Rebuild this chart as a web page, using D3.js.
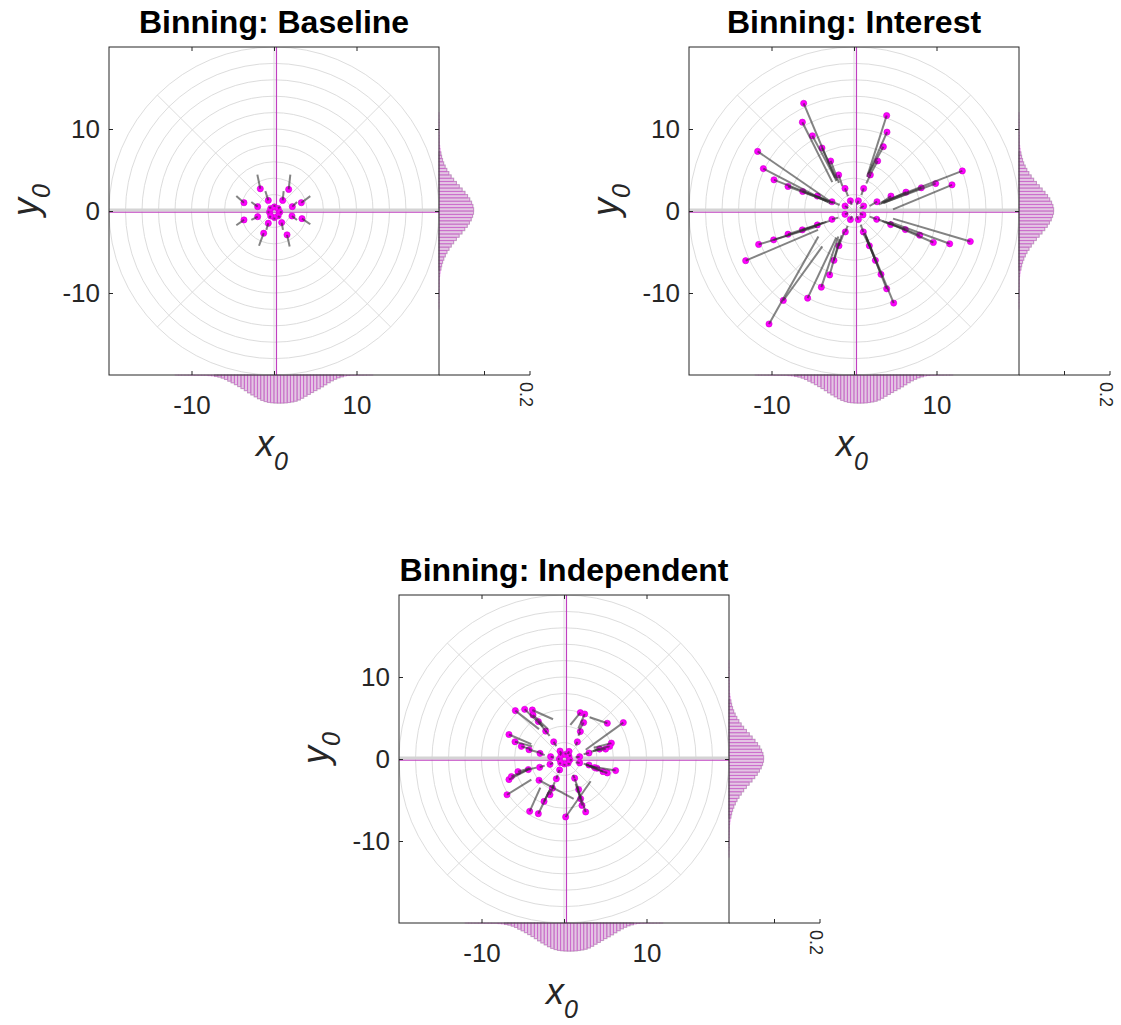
<!DOCTYPE html>
<html>
<head>
<meta charset="utf-8">
<script src="https://cdn.jsdelivr.net/npm/d3@7"></script>
<style>
  body { margin: 0; background: #fff; }
  svg { display: block; }
  text { font-family: "Liberation Sans", Arial, Helvetica, sans-serif; fill: #262626; }
</style>
</head>
<body>
<svg id="chart" width="1121" height="1025"></svg>
<script>
// ---------------- data ----------------
const panelTitles = ["Binning: Baseline", "Binning: Interest", "Binning: Independent"];
const axisDomain = [-20, 20];
const xTickValues = [-10, 0, 10];
const yTickValues = [-10, 0, 10];
const ringRadii = [2, 4, 6, 8, 10, 12, 14, 16, 18, 20];
const spokeAngles = [0, 45, 90, 135, 180, 225, 270, 315];
const guideX = 0.3;     // vertical reference line (x0)
const guideY = -0.15;   // horizontal reference line (y0)
const marginalMax = 0.2;
const marginalTicks = [0, 0.1, 0.2];

// marginal histograms: bins of width 0.4 spanning [-12, 12]
const binStart = -12, binWidth = 0.4;
const xMarginal = [
  0.0002, 0.0003, 0.0003, 0.0004, 0.0005, 0.0006, 0.0008, 0.0010, 0.0012, 0.0015,
  0.0019, 0.0024, 0.0032, 0.0045, 0.0068, 0.0098, 0.0135, 0.0172, 0.0213, 0.0255,
  0.0298, 0.0345, 0.0392, 0.0438, 0.0480, 0.0522, 0.0556, 0.0584, 0.0600, 0.0610,
  0.0615, 0.0617, 0.0616, 0.0612, 0.0604, 0.0592, 0.0575, 0.0548, 0.0510, 0.0466,
  0.0425, 0.0384, 0.0343, 0.0303, 0.0260, 0.0215, 0.0170, 0.0128, 0.0092, 0.0062,
  0.0040, 0.0026, 0.0016, 0.0010, 0.0007, 0.0005, 0.0004, 0.0003, 0.0002, 0.0002
];
const yMarginal = [
  0.0001, 0.0001, 0.0002, 0.0002, 0.0003, 0.0004, 0.0005, 0.0007, 0.0010, 0.0015,
  0.0021, 0.0030, 0.0042, 0.0058, 0.0079, 0.0105, 0.0137, 0.0175, 0.0219, 0.0268,
  0.0322, 0.0380, 0.0442, 0.0505, 0.0566, 0.0620, 0.0668, 0.0707, 0.0738, 0.0758,
  0.0760, 0.0744, 0.0716, 0.0676, 0.0627, 0.0570, 0.0508, 0.0445, 0.0382, 0.0322,
  0.0266, 0.0216, 0.0172, 0.0134, 0.0103, 0.0077, 0.0057, 0.0041, 0.0029, 0.0020,
  0.0014, 0.0010, 0.0007, 0.0005, 0.0004, 0.0003, 0.0002, 0.0002, 0.0001, 0.0001
];

// bin centres (points) and where each one is shifted to (line ends)
const baselineDots = [
  [-1.66, 2.71], [1.78, 2.63], [-3.64, 1.01], [3.31, 1.01], [-1.98, 0.53], [2.22, 0.53],
  [-3.64, -1.09], [3.39, -0.93], [-1.98, -0.69], [2.18, -0.61], [-1.25, -2.71], [1.58, -2.91],
  [-0.69, 1.29], [1.05, 1.29], [-0.69, -1.49], [0.93, -1.41],
  [-0.55, -0.15], [-0.40, 0.30], [0.05, 0.50], [0.50, 0.30], [0.70, -0.15], [0.50, -0.60],
  [0.05, -0.80], [-0.40, -0.60]
];
const baselineEnds = [
  [-2.02, 4.44], [1.98, 4.44], [-4.57, 1.82], [4.40, 1.82], [-2.75, 1.09], [2.79, 1.09],
  [-4.57, -1.74], [4.40, -1.62], [-2.75, -1.09], [2.79, -1.09], [-1.82, -4.24], [1.90, -4.32],
  [-1.05, 2.42], [1.17, 2.42], [-0.93, -2.30], [1.09, -2.30],
  [-0.80, -0.15], [-0.55, 0.50], [0.05, 0.75], [0.70, 0.50], [0.95, -0.15], [0.70, -0.80],
  [0.05, -1.05], [-0.55, -0.80]
];

const interestDots = [
  [-6.10, 13.13], [-6.26, 10.83], [-5.05, 9.17], [-3.88, 7.68], [-2.83, 6.10], [-1.86, 4.40], [-1.09, 2.75], [-0.44, 1.25],
  [3.96, 11.64], [4.00, 9.62], [3.56, 7.84], [2.87, 6.10], [1.98, 4.40], [1.17, 2.75], [0.53, 1.25],
  [-11.68, 7.27], [-10.99, 5.17], [-9.70, 3.80], [-8.00, 2.99], [-6.22, 2.38], [-4.44, 1.82], [-2.67, 1.13], [-1.09, 0.61],
  [13.13, 4.89], [11.88, 3.19], [9.90, 3.35], [8.16, 2.83], [6.30, 2.30], [4.48, 1.82], [2.79, 1.13], [1.17, 0.61],
  [14.10, -3.72], [11.60, -4.00], [9.62, -3.84], [7.96, -2.95], [6.22, -2.26], [4.44, -1.66], [2.75, -1.01], [1.09, -0.48],
  [4.81, -11.23], [3.96, -9.49], [3.27, -7.72], [2.59, -6.02], [1.86, -4.24], [1.13, -2.55], [0.53, -1.05],
  [-10.30, -13.78], [-8.57, -10.91], [-5.62, -10.63], [-3.96, -9.29], [-2.95, -7.80], [-2.43, -6.02], [-1.82, -4.24], [-1.05, -2.55], [-0.44, -1.05],
  [-13.13, -6.06], [-11.56, -4.08], [-9.74, -3.52], [-8.00, -2.83], [-6.26, -2.30], [-4.44, -1.70], [-2.67, -1.01], [-1.09, -0.40]
];
const interestEnds = [
  [-2.14, 3.64], [-2.63, 3.52], [-2.30, 4.04], [-2.06, 3.76], [-1.82, 3.43], [-1.41, 3.03], [-0.73, 1.82], [-0.28, 0.73],
  [1.58, 4.16], [1.74, 4.48], [1.82, 4.65], [1.90, 4.32], [1.49, 3.35], [0.89, 1.94], [0.36, 0.77],
  [-2.63, 1.01], [-2.87, 0.93], [-2.95, 1.17], [-3.35, 1.25], [-3.11, 1.13], [-2.55, 0.97], [-1.74, 0.73], [-0.69, 0.36],
  [3.35, 1.09], [4.73, 0.20], [3.60, 1.01], [3.52, 0.97], [3.27, 0.89], [3.03, 0.77], [1.90, 0.61], [0.69, 0.32],
  [4.73, -0.93], [4.32, -1.33], [4.08, -1.41], [3.84, -1.33], [3.43, -1.21], [2.91, -1.01], [1.90, -0.69], [0.69, -0.28],
  [1.29, -2.63], [1.37, -2.87], [1.45, -3.11], [1.54, -3.43], [1.13, -2.71], [0.81, -1.66], [0.32, -0.65],
  [-4.32, -3.11], [-3.84, -4.32], [-2.14, -3.23], [-1.90, -3.11], [-1.74, -3.43], [-1.49, -2.95], [-1.17, -2.51], [-0.77, -1.82], [-0.24, -0.61],
  [-4.36, -2.30], [-4.48, -1.90], [-4.16, -1.66], [-3.76, -1.45], [-3.35, -1.33], [-2.95, -1.21], [-1.90, -0.81], [-0.73, -0.24]
];

const independentDots = [
  [-5.90, 5.90], [-4.77, 6.06], [-3.84, 5.98], [-3.76, 5.37], [-3.11, 4.57], [-2.22, 3.40],
  [-6.67, 2.99], [-5.94, 2.10], [-5.17, 1.54], [-4.24, 1.13], [-2.91, 0.69], [-1.25, 2.10],
  [-0.48, 0.97], [-1.62, 0.28],
  [1.98, 5.66], [2.51, 5.49], [2.38, 4.44], [1.98, 3.35], [1.62, 2.10], [0.61, 0.93],
  [5.25, 4.36], [7.19, 4.44], [5.74, 1.94], [5.54, 1.54], [5.05, 1.21], [4.32, 1.21],
  [3.03, 0.73], [1.90, 0.28],
  [6.26, -1.41], [5.25, -1.70], [4.73, -1.54], [4.00, -1.13], [3.72, -1.05], [3.03, -0.73],
  [1.90, -0.48], [1.29, -2.34], [1.78, -3.72], [2.02, -4.85], [2.18, -5.66], [2.63, -6.46],
  [0.20, -7.07],
  [-6.91, -4.36], [-6.67, -2.51], [-6.38, -2.14], [-5.58, -1.54], [-4.32, -1.29], [-2.95, -1.01],
  [-1.70, -0.65], [-0.53, -1.33], [-3.03, -2.59], [-4.16, -6.38], [-3.11, -6.67], [-2.42, -5.17],
  [-1.70, -4.36], [-1.41, -3.56], [-0.93, -2.42],
  [-0.55, 0.00], [-0.35, 0.45], [0.15, 0.55], [0.60, 0.35], [0.70, -0.10], [0.50, -0.50],
  [0.05, -0.60], [-0.40, -0.45]
];
const independentEnds = [
  [-3.03, 3.64], [-2.55, 3.96], [-1.33, 4.85], [-1.94, 3.64], [-2.14, 3.31], [-1.74, 2.83],
  [-3.96, 1.82], [-3.84, 1.54], [-4.08, 1.21], [-2.75, 0.73], [-2.34, 0.48], [-0.93, 1.54],
  [-0.32, 0.61], [-1.25, 0.20],
  [0.77, 4.16], [1.74, 3.72], [1.82, 3.43], [1.74, 2.83], [1.41, 1.62], [0.48, 0.61],
  [3.11, 5.09], [2.63, 1.13], [3.60, 1.37], [3.72, 1.09], [3.52, 0.97], [3.31, 0.89],
  [2.38, 0.57], [1.41, 0.20],
  [3.11, -0.89], [3.31, -1.05], [3.11, -0.81], [2.71, -0.73], [2.63, -0.69], [2.38, -0.57],
  [1.41, -0.40], [1.09, -1.94], [1.29, -2.42], [1.41, -3.03], [1.58, -3.31], [1.70, -3.64],
  [3.23, -2.71],
  [-3.96, -2.51], [-4.36, -1.29], [-4.16, -1.21], [-4.16, -1.13], [-3.35, -1.05], [-2.34, -0.81],
  [-1.33, -0.48], [-0.69, -1.70], [1.17, -4.85], [-2.87, -3.48], [-1.74, -3.84], [-1.66, -3.64],
  [-1.25, -3.23], [-1.13, -2.83], [-0.77, -1.94],
  [-0.75, 0.00], [-0.50, 0.62], [0.20, 0.75], [0.82, 0.47], [0.95, -0.12], [0.68, -0.68],
  [0.07, -0.82], [-0.55, -0.62]
];

// ---------------- drawing ----------------
const panels = [
  { title: panelTitles[0], dots: baselineDots, ends: baselineEnds },
  { title: panelTitles[1], dots: interestDots, ends: interestEnds },
  { title: panelTitles[2], dots: independentDots, ends: independentEnds }
];
const frames = [{ left: 109, top: 47 }, { left: 689, top: 47 }, { left: 399, top: 595 }];
const W = 330, H = 328, MARG = 91;
const MAGENTA = "#ff00ff", GUIDE = "#c040c0", INK = "#262626";

const svg = d3.select("#chart");
const binCenters = xMarginal.map((_, i) => binStart + binWidth * (i + 0.5));

panels.forEach((p, i) => {
  const { left, top } = frames[i];
  const right = left + W, bottom = top + H;
  const x = d3.scaleLinear().domain(axisDomain).range([left, right]);
  const y = d3.scaleLinear().domain(axisDomain).range([bottom, top]);
  const mv = d3.scaleLinear().domain([0, marginalMax]).range([0, MARG]);
  const g = svg.append("g");

  // title
  g.append("text").attr("x", left + W / 2).attr("y", top - 14)
    .attr("text-anchor", "middle").attr("font-weight", "bold").attr("font-size", 32)
    .style("fill", "#000").text(p.title);

  // marginal histograms (outside the plot box)
  const hx = g.append("g");
  const bw = x(binWidth) - x(0);
  const bh = y(0) - y(binWidth);
  const xBins = binCenters.map((c, k) => ({ c, v: xMarginal[k] }));
  const yBins = binCenters.map((c, k) => ({ c, v: yMarginal[k] }));

  // grey underlay where the density is appreciable
  hx.selectAll("rect.gx").data(xBins.filter(b => b.v > 0.003)).join("rect")
    .attr("x", b => x(b.c - binWidth / 2)).attr("width", bw)
    .attr("y", bottom).attr("height", b => mv(b.v))
    .attr("fill", "#e2e2e2").attr("stroke", "#c4c4c4").attr("stroke-width", 1.2);
  hx.selectAll("rect.gy").data(yBins.filter(b => b.v > 0.003)).join("rect")
    .attr("y", b => y(b.c + binWidth / 2)).attr("height", bh)
    .attr("x", right).attr("width", b => mv(b.v))
    .attr("fill", "#e2e2e2").attr("stroke", "#c4c4c4").attr("stroke-width", 1.2);
  // magenta bars
  hx.selectAll("rect.mx").data(xBins).join("rect")
    .attr("x", b => x(b.c - binWidth / 2)).attr("width", bw)
    .attr("y", bottom).attr("height", b => mv(b.v))
    .attr("fill", MAGENTA).attr("fill-opacity", 0.13)
    .attr("stroke", "#cc22cc").attr("stroke-opacity", 0.42).attr("stroke-width", 0.6);
  hx.selectAll("rect.my").data(yBins).join("rect")
    .attr("y", b => y(b.c + binWidth / 2)).attr("height", bh)
    .attr("x", right).attr("width", b => mv(b.v))
    .attr("fill", MAGENTA).attr("fill-opacity", 0.13)
    .attr("stroke", "#cc22cc").attr("stroke-opacity", 0.42).attr("stroke-width", 0.6);

  // clipped plot area
  const clipId = "plotclip" + i;
  g.append("clipPath").attr("id", clipId).append("rect")
    .attr("x", left).attr("y", top).attr("width", W).attr("height", H);
  const plot = g.append("g").attr("clip-path", `url(#${clipId})`);

  // polar grid
  const cx = x(0), cy = y(0);
  plot.selectAll("ellipse").data(ringRadii).join("ellipse")
    .attr("cx", cx).attr("cy", cy)
    .attr("rx", r => x(r) - x(0)).attr("ry", r => y(0) - y(r))
    .attr("fill", "none").attr("stroke", "#d8d8d8").attr("stroke-width", 0.9);
  const rMax = d3.max(ringRadii);
  plot.selectAll("line.spoke").data(spokeAngles).join("line")
    .attr("x1", cx).attr("y1", cy)
    .attr("x2", a => x(rMax * Math.cos(a * Math.PI / 180)))
    .attr("y2", a => y(rMax * Math.sin(a * Math.PI / 180)))
    .attr("stroke", "#d8d8d8").attr("stroke-width", 0.9);

  // reference lines
  plot.append("line").attr("x1", left).attr("x2", right)
    .attr("y1", y(0.12)).attr("y2", y(0.12))
    .attr("stroke", "#d4d4d4").attr("stroke-width", 3);
  plot.append("line").attr("x1", left).attr("x2", right)
    .attr("y1", y(guideY)).attr("y2", y(guideY))
    .attr("stroke", GUIDE).attr("stroke-width", 1.2);
  plot.append("line").attr("x1", x(guideX)).attr("x2", x(guideX))
    .attr("y1", top).attr("y2", bottom)
    .attr("stroke", GUIDE).attr("stroke-width", 1.2);

  // points
  plot.selectAll("circle.pt").data(p.dots).join("circle")
    .attr("cx", d => x(d[0])).attr("cy", d => y(d[1])).attr("r", 3.1)
    .attr("fill", MAGENTA).attr("stroke", "#d000d0").attr("stroke-width", 0.6);
  // shift vectors
  plot.selectAll("line.vec").data(p.dots).join("line")
    .attr("x1", d => x(d[0])).attr("y1", d => y(d[1]))
    .attr("x2", (d, k) => x(p.ends[k][0])).attr("y2", (d, k) => y(p.ends[k][1]))
    .attr("stroke", "#303030").attr("stroke-opacity", 0.6).attr("stroke-width", 2);

  // box
  g.append("rect").attr("x", left).attr("y", top).attr("width", W).attr("height", H)
    .attr("fill", "none").attr("stroke", INK).attr("stroke-width", 1);

  const fmt = d => String(d);
  const styleAxis = sel => {
    sel.select(".domain").remove();
    sel.selectAll(".tick line").attr("stroke", INK);
    sel.selectAll(".tick text").attr("font-size", 26).style("fill", INK)
      .attr("font-family", "'Liberation Sans', Arial, sans-serif");
  };
  g.append("g").attr("transform", `translate(0,${bottom})`)
    .call(d3.axisBottom(x).tickValues(xTickValues).tickSize(-4).tickPadding(21)
      .tickFormat(d => d === 0 ? "" : fmt(d))).call(styleAxis);
  g.append("g").attr("transform", `translate(0,${top})`)
    .call(d3.axisTop(x).tickValues(xTickValues).tickSize(-4).tickFormat("")).call(styleAxis);
  g.append("g").attr("transform", `translate(${left},0)`)
    .call(d3.axisLeft(y).tickValues(yTickValues).tickSize(-4).tickPadding(9).tickFormat(fmt))
    .call(styleAxis);
  g.append("g").attr("transform", `translate(${right},0)`)
    .call(d3.axisRight(y).tickValues(yTickValues).tickSize(-4).tickFormat("")).call(styleAxis);

  // marginal value axis
  const mAxis = d3.scaleLinear().domain([0, marginalMax]).range([right, right + MARG]);
  g.append("line").attr("x1", right).attr("x2", right + MARG)
    .attr("y1", bottom).attr("y2", bottom).attr("stroke", INK).attr("stroke-width", 1);
  g.selectAll("line.mtick").data(marginalTicks.slice(1)).join("line")
    .attr("x1", d => mAxis(d)).attr("x2", d => mAxis(d))
    .attr("y1", bottom).attr("y2", bottom - 4).attr("stroke", INK);
  g.append("text")
    .attr("transform", `translate(${mAxis(marginalMax) - 10},${bottom + 7}) rotate(90)`)
    .attr("font-size", 18).text(String(marginalMax));

  // axis labels
  const xl = g.append("text").attr("x", left + W / 2 - 2).attr("y", bottom + 81)
    .attr("text-anchor", "middle").attr("font-style", "italic");
  xl.append("tspan").attr("font-size", 36).text("x");
  xl.append("tspan").attr("font-size", 25).attr("dy", 14).text("0");

  const yl = g.append("text")
    .attr("transform", `translate(${left - 71},${top + H / 2 - 11}) rotate(-90)`)
    .attr("text-anchor", "middle").attr("font-style", "italic");
  yl.append("tspan").attr("font-size", 36).text("y");
  yl.append("tspan").attr("font-size", 25).attr("dy", 12).text("0");
});
</script>
</body>
</html>
